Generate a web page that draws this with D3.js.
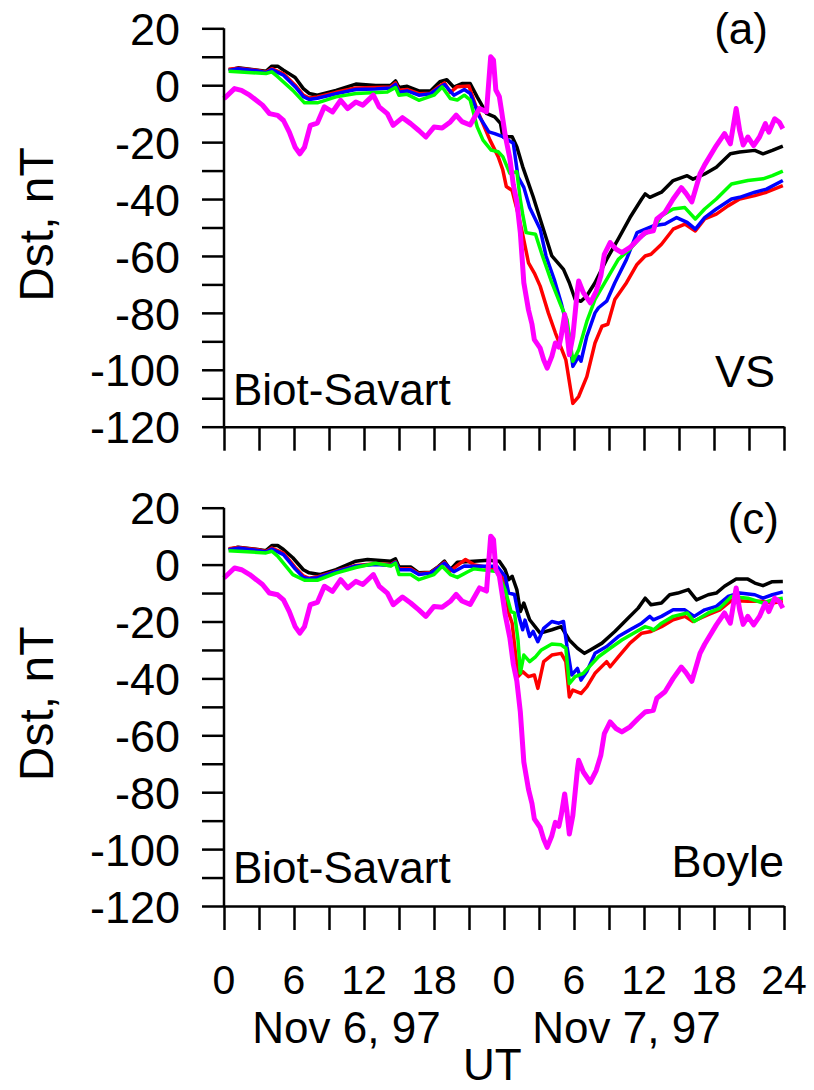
<!DOCTYPE html>
<html>
<head>
<meta charset="utf-8">
<script src="https://cdn.jsdelivr.net/npm/d3@7"></script>
<style>
  body { margin: 0; background: #fff; }
  svg { display: block; font-family: "Liberation Sans", Arial, sans-serif; }
</style>
</head>
<body>
<div id="chart"></div>
<script>
// hours since Nov 6, 97 00 UT ; Dst in nT
const observedDst = [[0,-4.7],[0.9,-1.2],[1.5,-1.8],[2.2,-3.5],[3.3,-7],[3.9,-10],[4.6,-10.6],[5.1,-12.4],[5.6,-16.5],[6.1,-21.8],[6.5,-24.1],[6.9,-21.8],[7.4,-14.1],[8,-13.3],[8.6,-7.6],[9.3,-9.4],[10,-5.3],[10.6,-8.2],[11.3,-5.9],[11.9,-7],[12.8,-3.5],[13.3,-7.6],[14,-10],[14.5,-14.1],[15.3,-11.4],[16,-13.5],[16.7,-15.9],[17.3,-18.2],[18,-14.7],[18.7,-15],[19.4,-12.9],[19.9,-10.5],[20.4,-12.8],[21.1,-14],[21.9,-8.2],[22.5,-9.3],[22.86,10],[23.1,8.8],[23.3,-1.7],[23.6,-4],[23.8,-9.3],[24.1,-17.5],[24.5,-25.7],[24.8,-35],[25.1,-40.9],[25.4,-51.8],[25.7,-69.4],[26.1,-79],[26.4,-84],[26.6,-89.4],[27.1,-92.4],[27.4,-96.5],[27.7,-99.4],[28.1,-95.3],[28.4,-90.6],[28.7,-92],[28.9,-88.2],[29.2,-80.6],[29.4,-87],[29.6,-94.7],[29.9,-88.2],[30.3,-71.8],[30.4,-68.8],[30.8,-72.9],[31.4,-76.5],[31.9,-72.4],[32.3,-67],[32.6,-59.4],[33.1,-55.3],[33.6,-57.6],[34.1,-58.8],[34.8,-57],[35.5,-54.1],[36.1,-51.8],[36.8,-51.2],[37.1,-47],[37.8,-44.7],[38.5,-40],[39.2,-36],[39.6,-38],[40.1,-41],[40.8,-31.2],[41.2,-28],[42.2,-21.2],[42.9,-17],[43.4,-20.6],[43.9,-8.2],[44.2,-16],[44.5,-21],[44.9,-18.2],[45.4,-21.2],[45.9,-18.2],[46.4,-13.5],[46.7,-16.5],[47.2,-11.8],[47.6,-13],[47.9,-15.3]];

// panel (a) VS model runs
const vsBlack = [[0.4,5.3],[1.2,6.1],[2.9,5.3],[3.6,4.9],[4.1,6.7],[4.6,6.7],[5.1,5.3],[6.1,2.7],[6.8,-1.2],[7.3,-2.9],[8,-3.5],[9.6,-1.8],[11.3,0.4],[13,-0.1],[14.3,0],[14.7,1.5],[15,-0.8],[15.7,-0.4],[16.7,-2],[17.7,-2],[18.5,1.2],[19.1,1.9],[19.7,-0.7],[20.4,0.6],[21.1,0.6],[21.7,-4.1],[22.5,-9.9],[23.2,-11.1],[23.7,-13.4],[23.9,-18.1],[24.7,-18.1],[25.1,-21.6],[25.6,-28.6],[26.5,-39.2],[27.1,-47],[28.1,-60],[29.1,-64.7],[29.6,-69.4],[30.1,-75.3],[30.6,-75.9],[31.1,-74],[31.8,-69.4],[32.8,-61.2],[33.8,-54],[34.8,-46.5],[35.8,-40],[36.1,-38.2],[36.5,-39.4],[37.5,-37.6],[38.5,-33.5],[39.7,-31.8],[40.2,-33],[41.2,-31.2],[42.2,-28.8],[43.4,-24.1],[44.2,-23.5],[45.5,-22.9],[46.2,-24.1],[47,-22.9],[47.9,-21.4]];
const vsRed = [[0.4,5.6],[1.2,6],[2.9,5.2],[3.6,4.6],[4.1,5.8],[5.1,4],[6.1,0],[6.8,-3.5],[7.3,-4.5],[8,-4.1],[9.6,-2.5],[11.3,-1],[13,-0.8],[14.3,-0.6],[14.7,0.8],[15,-1.8],[15.7,-1.5],[16.7,-3],[17.7,-2.8],[18.4,-0.5],[18.9,0.8],[19.4,-2.5],[20,-0.5],[21,-0.3],[21.7,-8.7],[22.8,-19.3],[23.5,-25.1],[23.9,-29.8],[24.2,-35.6],[24.7,-37],[24.9,-40.3],[25.2,-45],[25.6,-52.4],[26.1,-62.4],[26.6,-66],[27.1,-70.6],[27.8,-80],[28.4,-87],[29.3,-96.5],[29.9,-111.8],[30.4,-109.4],[31.1,-102.4],[31.8,-90.6],[32.4,-84.7],[32.9,-84],[33.5,-75.3],[34.5,-69.4],[35.4,-63],[36.1,-60],[36.6,-59.4],[37.5,-55.9],[38.5,-50.6],[39.5,-48.8],[40.4,-51.2],[41.2,-47],[42.2,-45.3],[43.2,-42.4],[44.2,-40],[45.5,-38.8],[46.5,-37.6],[47.9,-35.3]];
const vsBlue = [[0.4,5.2],[1.2,5.8],[2.9,5],[3.6,4.4],[4.1,5.5],[5.1,3.5],[6.1,-0.5],[6.8,-4],[7.3,-5],[8,-4.6],[9.6,-3],[11.3,-1.5],[13,-1.3],[14.3,-1],[14.7,0.3],[15,-2.5],[15.7,-2],[16.7,-3.5],[17.7,-3],[18.5,-0.7],[18.9,0.2],[19.7,-3.5],[20.6,-1.5],[21.1,-2.9],[21.9,-11.1],[22.7,-16.4],[23.2,-17],[23.9,-18.1],[24.8,-20.4],[25.2,-32.2],[25.7,-35.9],[26.2,-43],[27.1,-50.6],[27.6,-60],[28.3,-68.2],[28.9,-76.5],[29.6,-88.2],[29.9,-98.8],[30.4,-95.3],[30.6,-97],[31.1,-88.2],[31.8,-80],[32.1,-78.2],[32.8,-75.9],[33.5,-69.4],[34.5,-61.2],[35.4,-51.8],[36.8,-49.4],[37.8,-48.8],[38.8,-46.5],[39.7,-48.2],[40.4,-50.6],[41.2,-46.5],[42.2,-43.5],[43.5,-40],[44.2,-39.4],[45.5,-37.6],[46.5,-36.5],[47.9,-33.5]];
const vsGreen = [[0.4,4.9],[3.6,4.1],[4.1,4.7],[4.6,3],[5.9,-1.8],[6.9,-6.2],[8,-6.2],[9.6,-4.1],[11.3,-2.9],[14,-2.4],[14.7,-0.8],[15,-3.5],[15.7,-3.2],[16.7,-5.3],[18,-3.5],[18.7,-0.6],[19.4,-4.7],[20,-5.2],[20.6,-3.5],[21.1,-5.2],[21.7,-14.6],[22.2,-19.3],[22.9,-22.8],[23.5,-23.4],[23.9,-25.1],[24.5,-31],[25.1,-30.4],[25.4,-40.3],[25.6,-45.3],[25.9,-51.8],[26.7,-52.4],[27.2,-58.8],[28.1,-69.4],[28.9,-77.6],[29.4,-82.4],[29.9,-97],[30.4,-93],[31.1,-83],[31.8,-75.3],[32.8,-68.2],[33.8,-61.2],[34.8,-57.6],[35.8,-53],[36.8,-50.5],[37.5,-45.9],[38.5,-43.5],[39.5,-43],[40.4,-47],[41.2,-43.5],[42.2,-40],[43.5,-34.7],[44.9,-33.5],[46.2,-32.9],[47,-31.8],[47.9,-30.2]];

// panel (c) Boyle model runs
const byBlack = [[0.4,5.3],[1.2,6.1],[2.9,5.3],[3.6,4.9],[4.1,6.7],[4.6,6.7],[5.1,5.3],[5.9,2.4],[6.8,-1.8],[7.3,-2.9],[8.2,-3.5],[9.6,-1.8],[11.3,1.2],[12.3,1.8],[14.3,1.2],[14.7,2],[15,-0.8],[16,-0.8],[16.7,-2.9],[17.7,-2.7],[18.4,-0.6],[18.9,1.2],[19.4,-1.8],[20,0.8],[21.4,1.2],[22.7,1.5],[23.6,1.2],[24.1,-1.8],[24.4,-5.3],[24.7,-4.1],[25.1,-8.8],[25.4,-16.5],[25.7,-13.5],[26.2,-19.4],[27.1,-24.1],[28.1,-22.9],[28.9,-21.8],[29.6,-26.5],[30.3,-29.4],[30.9,-31.2],[31.4,-30],[32.4,-27.6],[33.5,-23.5],[34.5,-19.4],[35.5,-15.3],[36.1,-11.8],[36.6,-14.1],[37.5,-13.5],[38.2,-10.6],[38.9,-10],[39.8,-8.8],[40.5,-12.4],[41.5,-10.6],[42.2,-10],[42.9,-7.6],[43.9,-5.1],[44.9,-5.1],[45.5,-6.5],[46.2,-7.4],[47,-6],[47.9,-5.9]];
const byRed = [[0.4,5.6],[1.2,6],[2.9,5.2],[3.6,4.6],[4.1,5.8],[5.1,4],[6.1,-1],[6.8,-4],[7.3,-4.8],[8,-4.3],[9.6,-2.3],[11.3,-0.3],[13,0.3],[14.3,0],[14.7,1],[15,-1.5],[16,-1.5],[16.7,-3.2],[17.7,-2.8],[18.5,-0.5],[18.9,0.8],[19.4,-2.3],[20,-0.3],[20.7,1.8],[21.4,0],[23.6,-1.8],[24.1,-7.6],[24.4,-17],[24.7,-20.6],[25.2,-39.4],[25.6,-37.6],[26.1,-39.4],[26.6,-38.8],[26.9,-43.5],[27.4,-34.1],[28.1,-31.8],[28.9,-31.2],[29.3,-34.1],[29.6,-46.5],[29.9,-44.1],[30.6,-45.3],[31.1,-43],[31.8,-38.2],[32.8,-34.1],[33.1,-35.9],[33.8,-32.4],[34.8,-27.6],[35.8,-24.1],[36.6,-23.5],[37.5,-21.8],[38.5,-19.4],[39.5,-18.2],[40.2,-20],[41.5,-17.6],[42.5,-15.9],[43.5,-12.6],[44.9,-12.9],[46.2,-12.9],[47,-13.5],[47.9,-12.9]];
const byBlue = [[0.4,5.2],[1.2,5.8],[2.9,5],[3.6,4.4],[4.1,5.5],[5.1,3.5],[6.1,-1.5],[6.8,-4.5],[7.3,-5],[8,-4.6],[9.6,-2.5],[11.3,-0.5],[13,0],[14.3,-0.3],[14.7,0.8],[15,-1.8],[16,-1.8],[16.7,-3.5],[17.7,-3],[18.5,-0.7],[18.9,0.5],[19.7,-2.5],[20.6,-0.5],[21.4,-0.6],[23.4,-0.6],[24.1,-4.1],[24.4,-10],[24.9,-10.5],[25.2,-17],[25.6,-22.9],[25.8,-19.5],[26.2,-25.3],[26.5,-23.5],[26.9,-27.1],[27.4,-22.4],[28.1,-20],[28.7,-20.6],[29.1,-20],[29.4,-28.8],[29.8,-38.8],[30.3,-36.5],[30.6,-40.6],[31.1,-37.6],[31.8,-31.2],[32.8,-28.8],[33.8,-25.3],[34.8,-22.9],[35.8,-20.6],[36.5,-18.2],[36.8,-19.4],[37.5,-18.2],[38.5,-15.9],[39.5,-15.9],[40.3,-18.2],[41.2,-15.9],[42.2,-14.7],[43.2,-11.2],[44.2,-10],[45.5,-10.6],[46.2,-11.8],[47,-10.6],[47.9,-9.6]];
const byGreen = [[0.4,4.9],[3.6,4.1],[4.1,4.7],[4.6,3],[5.9,-3.5],[6.9,-5.5],[8,-5.5],[9.6,-3],[11.3,-1],[13,0.5],[14.3,-0.5],[14.7,0.5],[15,-3.5],[16,-3.5],[16.7,-5.3],[18,-3.5],[18.7,-0.6],[19.4,-3.5],[20,-4.5],[20.9,-2.5],[21.4,-1.5],[23.4,-2.4],[24.1,-8.8],[24.6,-16.5],[24.9,-17],[25.2,-26.5],[25.4,-38.2],[25.7,-31.8],[26.2,-34.1],[26.7,-32.4],[27.2,-30],[28.1,-27.9],[28.9,-28.2],[29.3,-29.4],[29.6,-41.8],[30.1,-39.4],[30.8,-38.2],[31.4,-35.5],[32.1,-32.4],[33.1,-29.4],[34.1,-26.5],[35.1,-24.1],[36.1,-21.8],[36.6,-22.4],[36.8,-23],[37.5,-20.6],[38.5,-18.2],[39.7,-17],[40.3,-20],[41.5,-17],[42.5,-15.3],[43.5,-11.2],[44.9,-11.8],[46.2,-13.5],[47,-12.4],[47.9,-11.8]];

const yTicks = d3.range(-120, 21, 10);
const xTicks = d3.range(0, 49, 3);
const xLabelHours = [0, 6, 12, 18, 24, 30, 36, 42, 48];
const xLabelText = ['0', '6', '12', '18', '0', '6', '12', '18', '24'];
const dayLabels = ['Nov 6, 97', 'Nov 7, 97'];

const W = 814, H = 1090;
const svg = d3.select('#chart').append('svg').attr('width', W).attr('height', H);

const x = d3.scaleLinear().domain([0, 48]).range([224, 784]);

const panels = [
  { top: 28.3, bottom: 426.7, letter: '(a)', letterX: 768, letterY: 44, model: 'VS', modelY: 387, modelX: 775, bsY: 405,
    series: [[vsBlack, '#000'], [vsRed, '#ff0000'], [vsBlue, '#0000ff'], [vsGreen, '#00ff00']] },
  { top: 507.7, bottom: 906, letter: '(c)', letterX: 779, letterY: 534, model: 'Boyle', modelY: 877, modelX: 784, bsY: 883,
    series: [[byBlack, '#000'], [byRed, '#ff0000'], [byBlue, '#0000ff'], [byGreen, '#00ff00']] }
];

panels.forEach((p, pi) => {
  const y = d3.scaleLinear().domain([-120, 20]).range([p.bottom, p.top]);
  const g = svg.append('g');

  const line = d3.line().x(d => x(d[0])).y(d => y(d[1]));

  // model curves
  p.series.forEach(([data, color]) => {
    g.append('path')
      .datum(data)
      .attr('fill', 'none')
      .attr('stroke', color)
      .attr('stroke-width', 3.5)
      .attr('stroke-linejoin', 'round')
      .attr('d', line);
  });

  // observed Dst
  g.append('path')
    .datum(observedDst)
    .attr('fill', 'none')
    .attr('stroke', '#ff00ff')
    .attr('stroke-width', 5)
    .attr('stroke-linejoin', 'round')
    .attr('d', line);

  // Y axis
  const yAxis = g.append('g')
    .attr('transform', `translate(${x(0)},0)`)
    .call(d3.axisLeft(y).tickValues(yTicks).tickSize(22).tickSizeOuter(0).tickPadding(22)
      .tickFormat(d => d % 20 === 0 ? d : ''));
  yAxis.select('.domain').attr('stroke-width', 2.5).attr('d', `M0,${p.top}V${p.bottom}`);
  yAxis.selectAll('.tick line').attr('stroke-width', 2.5);
  yAxis.selectAll('.tick text')
    .style('font-size', '45px')
    .style('font-family', '"Liberation Sans", Arial, sans-serif')
    .attr('fill', '#000')
    .attr('dy', '0.36em');

  // X axis
  const xAxis = g.append('g')
    .attr('transform', `translate(0,${p.bottom})`)
    .call(d3.axisBottom(x).tickValues(xTicks).tickSize(24).tickSizeOuter(0).tickFormat(''));
  xAxis.select('.domain').attr('stroke-width', 2.5);
  xAxis.selectAll('.tick line').attr('stroke-width', 2.5);

  // annotations
  g.append('text').attr('x', p.letterX).attr('y', p.letterY).attr('text-anchor', 'end')
    .style('font-size', '44px').text(p.letter);
  g.append('text').attr('x', p.modelX).attr('y', p.modelY).attr('text-anchor', 'end')
    .style('font-size', '45px').text(p.model);
  g.append('text').attr('x', 233).attr('y', p.bsY)
    .style('font-size', '44px').text('Biot-Savart');

  // y label
  g.append('text')
    .attr('transform', `translate(53,${(p.top + p.bottom) / 2 - 3}) rotate(-90)`)
    .attr('text-anchor', 'middle')
    .style('font-size', '48px')
    .text('Dst, nT');

  if (pi === 1) {
    g.selectAll('.xlab')
      .data(xLabelHours)
      .enter()
      .append('text')
      .attr('class', 'xlab')
      .attr('x', d => x(d))
      .attr('y', 994)
      .attr('text-anchor', 'middle')
      .style('font-size', '41px')
      .text((d, i) => xLabelText[i]);

    g.selectAll('.daylab')
      .data(dayLabels)
      .enter()
      .append('text')
      .attr('class', 'daylab')
      .attr('x', (d, i) => x(i * 24 + 10.5))
      .attr('y', 1043)
      .attr('text-anchor', 'middle')
      .style('font-size', '44px')
      .text(d => d);

    g.append('text')
      .attr('x', x(23))
      .attr('y', 1080)
      .attr('text-anchor', 'middle')
      .style('font-size', '44px')
      .text('UT');
  }
});
</script>
</body>
</html>
